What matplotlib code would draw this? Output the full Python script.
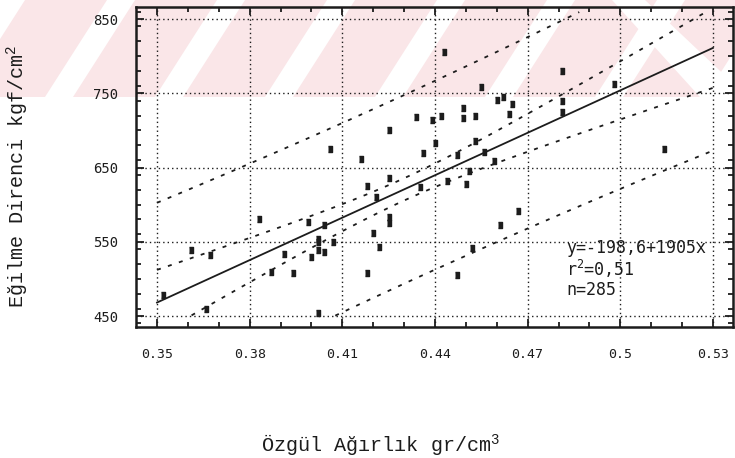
import numpy as np
import matplotlib
matplotlib.use("Agg")
import matplotlib.pyplot as plt
from matplotlib.patches import Polygon
from matplotlib.ticker import MultipleLocator, FixedLocator

# Specific gravity (gr/cm3) and bending strength (kgf/cm2) of the sampled specimens
density = [0.352, 0.361, 0.367, 0.366, 0.383, 0.387, 0.391, 0.394, 0.399, 0.400,
           0.402, 0.402, 0.402, 0.404, 0.404, 0.407, 0.402, 0.406, 0.416, 0.418,
           0.418, 0.420, 0.421, 0.422, 0.425, 0.425, 0.425, 0.425, 0.434, 0.435,
           0.436, 0.439, 0.440, 0.442, 0.443, 0.444, 0.447, 0.447, 0.449, 0.449,
           0.450, 0.451, 0.452, 0.453, 0.453, 0.455, 0.456, 0.459, 0.460, 0.461,
           0.462, 0.464, 0.465, 0.467, 0.481, 0.481, 0.481, 0.498, 0.514]
strength = [478, 539, 532, 459, 581, 509, 534, 508, 577, 529,
            554, 550, 539, 536, 573, 550, 454, 675, 661, 625,
            508, 562, 610, 543, 636, 583, 575, 701, 718, 624,
            670, 714, 683, 719, 806, 632, 505, 667, 717, 730,
            628, 645, 542, 719, 686, 758, 671, 659, 741, 573,
            745, 722, 736, 591, 780, 740, 725, 763, 675]

# Regression y = a + b x
intercept = -198.6
slope = 1905.0
r2_text = "0,51"
n_obs = 285

# Half-widths of the confidence (inner) and prediction (outer) bands
x_center = 0.43
inner_base, inner_spread = 15.0, 267000.0
outer_base, outer_spread = 127.0, 300000.0
band_floor, band_ceiling = 450, 860
fit_range = (0.35, 0.53)

x_ticks = [0.35, 0.38, 0.41, 0.44, 0.47, 0.50, 0.53]
x_ticklabels = ["0.35", "0.38", "0.41", "0.44", "0.47", "0.5", "0.53"]
y_ticks = [450, 550, 650, 750, 850]
y_ticklabels = ["450", "550", "650", "750", "850"]

ink = "#1c1c1c"
plt.rcParams["mathtext.default"] = "regular"

W, H = 735, 458
fig = plt.figure(figsize=(W / 100, H / 100), dpi=100)


def px(x, y):
    return (x / W, 1 - y / H)


# faint pink watermark band across the top of the page
band = Polygon([px(0, 0), px(W, 0), px(W, 97), px(0, 97)], closed=True,
               transform=fig.transFigure, facecolor="#fae6e8", edgecolor="none",
               zorder=-2)
fig.patches.append(band)
for k in range(8):
    x0 = -65 + k * 110
    stripe = Polygon([px(x0, 97), px(x0 + 28, 97), px(x0 + 90, 0), px(x0 + 62, 0)],
                     closed=True, transform=fig.transFigure, facecolor="white",
                     edgecolor="none", zorder=-1)
    fig.patches.append(stripe)
stripe = Polygon([px(612, 0), px(645, 0), px(735, 85), px(735, 97), px(700, 97)],
                 closed=True, transform=fig.transFigure, facecolor="white",
                 edgecolor="none", zorder=-1)
fig.patches.append(stripe)

ax = fig.add_axes([136 / W, 1 - 327 / H, (733 - 136) / W, (327 - 7) / H])
ax.set_facecolor("none")
ax.set_xlim(0.3432, 0.5365)
ax.set_ylim(435.2, 866.2)

# regression line and bands
xs = np.linspace(fit_range[0], fit_range[1], 500)
fit = intercept + slope * xs
h_in = np.sqrt(inner_base ** 2 + inner_spread * (xs - x_center) ** 2)
h_out = np.sqrt(outer_base ** 2 + outer_spread * (xs - x_center) ** 2)
ax.plot(xs, fit, color=ink, lw=1.3, zorder=3)
for curve in (fit + h_in, fit - h_in, fit + h_out, fit - h_out):
    curve = np.where((curve >= band_floor) & (curve <= band_ceiling), curve, np.nan)
    ax.plot(xs, curve, color=ink, lw=1.3, ls=(0, (2.2, 4.2)), zorder=3)

# observations
box = [(-0.36, -0.5), (0.36, -0.5), (0.36, 0.5), (-0.36, 0.5)]
ax.plot(density, strength, ls="none", marker=box, ms=4.6, color=ink, zorder=4)

ax.xaxis.set_major_locator(FixedLocator(x_ticks))
ax.set_xticklabels(x_ticklabels)
ax.xaxis.set_minor_locator(MultipleLocator(0.01))
ax.yaxis.set_major_locator(FixedLocator(y_ticks))
ax.set_yticklabels(y_ticklabels)
ax.yaxis.set_minor_locator(MultipleLocator(20))

ax.grid(True, which="major", color=ink, lw=1.0, ls=(0, (1, 2.2)))
ax.tick_params(which="both", direction="in", top=True, right=True,
               color=ink, width=1.3)
ax.tick_params(which="major", length=6)
ax.tick_params(which="minor", length=3.5)
ax.tick_params(axis="x", which="major", pad=15, labelsize=9.5, labelcolor=ink)
ax.tick_params(axis="y", which="major", pad=13, labelsize=10, labelcolor=ink)
for lab in ax.get_xticklabels() + ax.get_yticklabels():
    lab.set_fontfamily("DejaVu Sans Mono")
for sp in ax.spines.values():
    sp.set_linewidth(1.8)
    sp.set_color(ink)

stats = [f"y={intercept:g}+{slope:g}x".replace(".", ","),
         f"r$^2$={r2_text}",
         f"n={n_obs}"]
for i, s in enumerate(stats):
    ax.text((566 - 136) / 597, (327 - 248 - 21 * i) / 320, s,
            transform=ax.transAxes, ha="left", va="center",
            fontfamily="DejaVu Sans Mono", fontsize=12, color=ink, zorder=5)

fig.text(*px(381, 452), "Özgül Ağırlık gr/cm$^3$", ha="center", va="baseline",
         fontfamily="Liberation Mono", fontsize=14.5, color=ink)
fig.text(*px(18, 176), "Eğilme Direnci kgf/cm$^2$", ha="center", va="center",
         rotation=90, fontfamily="Liberation Mono", fontsize=14.5, color=ink)

fig.savefig("out.png", dpi=100)
